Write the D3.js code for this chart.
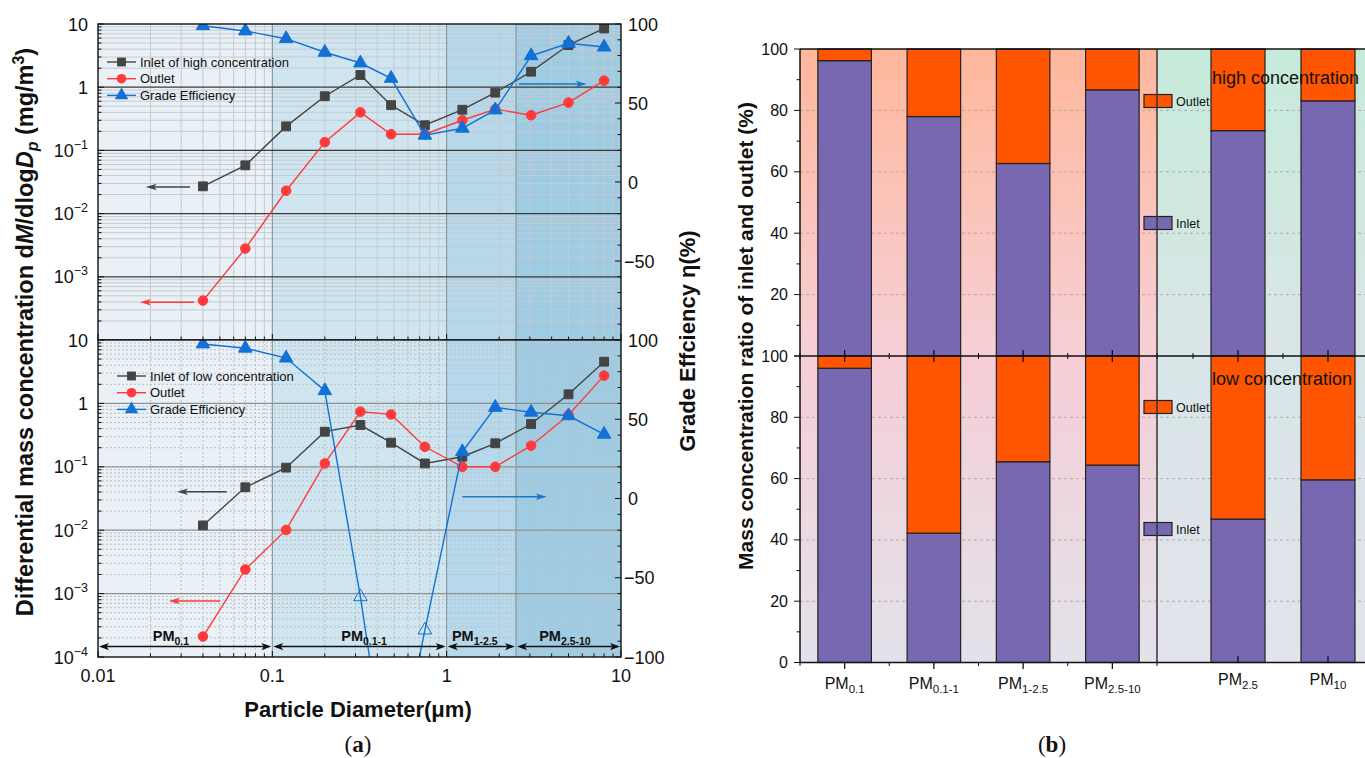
<!DOCTYPE html>
<html>
<head>
<meta charset="utf-8">
<script src="https://cdn.jsdelivr.net/npm/d3@7"></script>
<style>
  body { margin: 0; background: #fff; }
  text { font-family: "Liberation Sans", Arial, sans-serif; fill: #111; }
</style>
</head>
<body>
<div id="chart"></div>
<script>
// ---- data ----
var diameters = [0.04, 0.07, 0.12, 0.2, 0.32, 0.48, 0.75, 1.23, 1.9, 3.05, 5.0, 8.0];

var inletHigh = [0.027, 0.058, 0.24, 0.72, 1.56, 0.52, 0.25, 0.44, 0.82, 1.76, 4.65, 8.5];
var outletHigh = [4.2e-4, 2.8e-3, 0.023, 0.135, 0.40, 0.18, 0.18, 0.30, 0.45, 0.36, 0.57, 1.27];
var effHigh = [98.9, 95.6, 90.7, 82.1, 75.3, 65.6, 29.6, 34.0, 45.6, 79.9, 87.8, 85.4];

var inletLow = [0.0119, 0.0475, 0.097, 0.358, 0.456, 0.24, 0.113, 0.144, 0.235, 0.473, 1.39, 4.55];
var outletLow = [2.1e-4, 2.4e-3, 0.0101, 0.113, 0.74, 0.67, 0.207, 0.10, 0.10, 0.215, 0.656, 2.74];
var effLow = [97.5, 94.8, 88.6, 68.0, -62, -190, -83, 29.5, 57.5, 54.4, 52.2, 40.5];
var effLowHollow = [0, 0, 0, 0, 1, 0, 1, 0, 0, 0, 0, 0];

// arrows: [from x, to x, y value]
var arrowsHigh = [[0.0337, 0.0188, 0.0264], [0.0355, 0.0174, 3.95e-4], [2.60, 6.36, 62]];
var arrowsLow = [[0.0547, 0.0284, 0.0405], [0.0501, 0.0255, 7.64e-4], [1.23, 3.75, 1.1]];

var rangeEdges = [0.01, 0.1, 1, 2.5, 10];
var rangeSubs = ["0.1", "0.1-1", "1-2.5", "2.5-10"];
var rangeLabelAt = [0.0262, 0.336, 1.45, 4.77];
var rangeArrowY = 1.46e-4;

var fracCats = ["0.1", "0.1-1", "1-2.5", "2.5-10"];
var inletHighFrac = [96.2, 78.0, 62.7, 86.7];
var inletLowFrac = [96.0, 42.2, 65.5, 64.4];
var cumCats = ["2.5", "10"];
var inletHighCum = [73.4, 83.1];
var inletLowCum = [46.8, 59.6];

// ---- helpers ----
function logMinor(e0, e1) {
    var out = [];
    for (var e = e0; e < e1; e++) {
        for (var m = 2; m <= 9; m++) out.push(m * Math.pow(10, e));
    }
    return out;
}
function decades(e0, e1) {
    var out = [];
    for (var e = e0; e <= e1; e++) out.push(Math.pow(10, e));
    return out;
}
function arrowHead(g, xt, yt, dir, color, len, half) {
    g.append("path")
        .attr("d", "M" + xt + "," + yt +
            "L" + (xt - dir * len) + "," + (yt - half) +
            "L" + (xt - dir * len * 0.75) + "," + yt +
            "L" + (xt - dir * len) + "," + (yt + half) + "Z")
        .attr("fill", color);
}
function subLabel(g, xPos, yPos, base, sub, size, subSize, bold) {
    var t = g.append("text")
        .attr("x", xPos).attr("y", yPos)
        .attr("text-anchor", "middle")
        .style("font-size", size + "px")
        .style("font-weight", bold ? "bold" : "normal");
    t.append("tspan").text(base);
    t.append("tspan").attr("dy", size * 0.28).style("font-size", subSize + "px").text(sub);
    return t;
}

var svg = d3.select("#chart").append("svg")
    .attr("width", 1365)
    .attr("height", 758);
var defs = svg.append("defs");

// ================= panel (a) =================
var x = d3.scaleLog().domain([0.01, 10]).range([98, 621]);
var bandColors = ["#e9f0f6", "#cfe6f1", "#b6d8ea", "#9fcce2"];

var panelsA = [
    { top: 24, bottom: 340, inlet: inletHigh, outlet: outletHigh, eff: effHigh, hollow: null,
      name: "Inlet of high concentration", legX: 107, legY: 62, arrows: arrowsHigh,
      minorDash: null, minorColor: "#c3cbd1", majorColor: "#3a3a3a",
      yLabels: decades(-3, 1), effLabels: [100, 50, 0, -50], ranges: false },
    { top: 340, bottom: 657, inlet: inletLow, outlet: outletLow, eff: effLow, hollow: effLowHollow,
      name: "Inlet of low concentration", legX: 117, legY: 376, arrows: arrowsLow,
      minorDash: "2,2", minorColor: "#b8c0c6", majorColor: "#8f8f8f",
      yLabels: decades(-4, 1), effLabels: [100, 50, 0, -50, -100], ranges: true }
];

panelsA.forEach(function (p, pi) {
    var y = d3.scaleLog().domain([1e-4, 10]).range([p.bottom, p.top]);
    var yE = d3.scaleLinear().domain([-100, 100]).range([p.bottom, p.top]);
    var g = svg.append("g");

    defs.append("clipPath").attr("id", "clipA" + pi)
        .append("rect")
        .attr("x", 98).attr("y", p.top)
        .attr("width", 523).attr("height", p.bottom - p.top);

    // shaded size ranges
    g.selectAll(".band").data(rangeEdges.slice(0, 4)).enter().append("rect")
        .attr("x", function (d) { return x(d); })
        .attr("y", p.top)
        .attr("width", function (d, i) { return x(rangeEdges[i + 1]) - x(d); })
        .attr("height", p.bottom - p.top)
        .attr("fill", function (d, i) { return bandColors[i]; });

    // minor grid
    g.selectAll(".vmin").data(logMinor(-2, 1)).enter().append("line")
        .attr("x1", function (d) { return x(d); })
        .attr("x2", function (d) { return x(d); })
        .attr("y1", p.top).attr("y2", p.bottom)
        .attr("stroke", p.minorColor).attr("stroke-width", 1)
        .attr("stroke-dasharray", p.minorDash);
    g.selectAll(".hmin").data(logMinor(-4, 1)).enter().append("line")
        .attr("x1", 98).attr("x2", 621)
        .attr("y1", function (d) { return y(d); })
        .attr("y2", function (d) { return y(d); })
        .attr("stroke", p.minorColor).attr("stroke-width", 1)
        .attr("stroke-dasharray", p.minorDash);

    // major grid
    g.selectAll(".vmaj").data([0.1, 1, 2.5]).enter().append("line")
        .attr("x1", function (d) { return x(d); })
        .attr("x2", function (d) { return x(d); })
        .attr("y1", p.top).attr("y2", p.bottom)
        .attr("stroke", "#7f8d96").attr("stroke-width", 1);
    g.selectAll(".hmaj").data(decades(-3, 0)).enter().append("line")
        .attr("x1", 98).attr("x2", 621)
        .attr("y1", function (d) { return y(d); })
        .attr("y2", function (d) { return y(d); })
        .attr("stroke", p.majorColor).attr("stroke-width", 1.2);

    // series
    var series = [
        { vals: p.inlet, sc: y, color: "#444444", sym: d3.symbolSquare, size: 78 },
        { vals: p.outlet, sc: y, color: "#ff3a3a", sym: d3.symbolCircle, size: 72 },
        { vals: p.eff, sc: yE, color: "#1270d6", sym: d3.symbolTriangle, size: 80 }
    ];
    var plot = g.append("g").attr("clip-path", "url(#clipA" + pi + ")");
    series.forEach(function (s, si) {
        var line = d3.line()
            .x(function (d, i) { return x(diameters[i]); })
            .y(function (d) { return s.sc(d); });
        plot.append("path")
            .datum(s.vals)
            .attr("fill", "none")
            .attr("stroke", s.color)
            .attr("stroke-width", 1.4)
            .attr("d", line);
        plot.selectAll(".m" + si).data(s.vals).enter().append("path")
            .attr("transform", function (d, i) { return "translate(" + x(diameters[i]) + "," + s.sc(d) + ")"; })
            .attr("d", d3.symbol().type(s.sym).size(s.size))
            .attr("fill", function (d, i) { return (si === 2 && p.hollow && p.hollow[i]) ? "none" : s.color; })
            .attr("stroke", s.color)
            .attr("stroke-width", 1);
    });

    // legend
    var legNames = [p.name, "Outlet", "Grade Efficiency"];
    series.forEach(function (s, i) {
        var ly = p.legY + i * 16.7;
        g.append("line")
            .attr("x1", p.legX).attr("x2", p.legX + 29)
            .attr("y1", ly).attr("y2", ly)
            .attr("stroke", s.color).attr("stroke-width", 1.4);
        g.append("path")
            .attr("transform", "translate(" + (p.legX + 14.5) + "," + ly + ")")
            .attr("d", d3.symbol().type(s.sym).size(s.size))
            .attr("fill", s.color);
        g.append("text")
            .attr("x", p.legX + 33).attr("y", ly + 4.6)
            .style("font-size", "13px")
            .text(legNames[i]);
    });

    // axis arrows
    p.arrows.forEach(function (a, i) {
        var sc = i === 2 ? yE : y;
        var col = ["#444444", "#ff3a3a", "#1878c8"][i];
        var x1 = x(a[0]), x2 = x(a[1]), yy = sc(a[2]);
        var dir = x2 > x1 ? 1 : -1;
        g.append("line")
            .attr("x1", x1).attr("x2", x2 - dir * 6)
            .attr("y1", yy).attr("y2", yy)
            .attr("stroke", col).attr("stroke-width", 1.4);
        arrowHead(g, x2, yy, dir, col, 11, 3.2);
    });

    // PM ranges
    if (p.ranges) {
        var ay = y(rangeArrowY);
        rangeEdges.slice(0, 4).forEach(function (e, i) {
            var xa = x(e), xb = x(rangeEdges[i + 1]);
            g.append("line")
                .attr("x1", xa + 4).attr("x2", xb - 4)
                .attr("y1", ay).attr("y2", ay)
                .attr("stroke", "#111").attr("stroke-width", 1.5);
            arrowHead(g, xa + 1, ay, -1, "#111", 10, 3.6);
            arrowHead(g, xb - 1, ay, 1, "#111", 10, 3.6);
            subLabel(g, x(rangeLabelAt[i]), ay - 6, "PM", rangeSubs[i], 14.5, 10.5, true);
        });
    }

    // frame
    g.append("rect")
        .attr("x", 98).attr("y", p.top)
        .attr("width", 523).attr("height", p.bottom - p.top)
        .attr("fill", "none").attr("stroke", "#111").attr("stroke-width", 1.4);

    // left ticks (inward)
    g.selectAll(".ly").data(decades(-4, 1)).enter().append("line")
        .attr("x1", 98).attr("x2", 104)
        .attr("y1", function (d) { return y(d); }).attr("y2", function (d) { return y(d); })
        .attr("stroke", "#111");
    g.selectAll(".lym").data(logMinor(-4, 1)).enter().append("line")
        .attr("x1", 98).attr("x2", 101.5)
        .attr("y1", function (d) { return y(d); }).attr("y2", function (d) { return y(d); })
        .attr("stroke", "#111");
    // right ticks (inward)
    g.selectAll(".ry").data(d3.range(-100, 101, 10)).enter().append("line")
        .attr("x1", function (d) { return d % 50 === 0 ? 615 : 617.5; }).attr("x2", 621)
        .attr("y1", function (d) { return yE(d); }).attr("y2", function (d) { return yE(d); })
        .attr("stroke", "#111");
    // bottom ticks
    var bt = g.append("g");
    bt.selectAll(".bx").data(decades(-2, 1).concat(logMinor(-2, 1))).enter().append("line")
        .attr("x1", function (d) { return x(d); }).attr("x2", function (d) { return x(d); })
        .attr("y1", p.bottom)
        .attr("y2", function (d) {
            var major = Math.abs(Math.log10(d) - Math.round(Math.log10(d))) < 1e-9;
            return p.bottom - (major ? 6 : 3.5);
        })
        .attr("stroke", "#111");
    if (pi === 0) {
        bt.selectAll(".bx2").data(logMinor(-2, 1)).enter().append("line")
            .attr("x1", function (d) { return x(d); }).attr("x2", function (d) { return x(d); })
            .attr("y1", p.bottom).attr("y2", p.bottom + 3.5)
            .attr("stroke", "#111");
    }

    // left labels
    p.yLabels.forEach(function (v) {
        var e = Math.round(Math.log10(v));
        var t = g.append("text")
            .attr("x", 88).attr("y", y(v) + 6.5)
            .attr("text-anchor", "end")
            .style("font-size", "18px");
        if (e === 1) t.text("10");
        else if (e === 0) t.text("1");
        else {
            t.append("tspan").text("10");
            t.append("tspan").attr("dy", -8).style("font-size", "12.5px").text("\u2212" + (-e));
        }
    });
    // right labels
    p.effLabels.forEach(function (v) {
        g.append("text")
            .attr("x", v < 0 ? 624 : 628).attr("y", yE(v) + 6.5)
            .style("font-size", "18px")
            .text(v < 0 ? "\u2212" + (-v) : v);
    });
});

// x tick labels
[0.01, 0.1, 1, 10].forEach(function (v) {
    svg.append("text")
        .attr("x", x(v)).attr("y", 682)
        .attr("text-anchor", "middle")
        .style("font-size", "18px")
        .text(v);
});

svg.append("text")
    .attr("x", 358).attr("y", 717)
    .attr("text-anchor", "middle")
    .style("font-size", "22px").style("font-weight", "bold")
    .text("Particle Diameter(\u03bcm)");

var yt = svg.append("text")
    .attr("transform", "translate(33,332) rotate(-90)")
    .attr("text-anchor", "middle")
    .style("font-size", "23.5px").style("font-weight", "bold");
yt.append("tspan").text("Differential mass concentration d");
yt.append("tspan").style("font-style", "italic").text("M");
yt.append("tspan").text("/dlog");
yt.append("tspan").style("font-style", "italic").text("D");
yt.append("tspan").style("font-style", "italic").style("font-size", "16px").attr("dy", 5).text("p");
yt.append("tspan").attr("dy", -5).text(" (mg/m");
yt.append("tspan").style("font-size", "16px").attr("dy", -9).text("3");
yt.append("tspan").attr("dy", 9).text(")");

svg.append("text")
    .attr("transform", "translate(695,341) rotate(-90)")
    .attr("text-anchor", "middle")
    .style("font-size", "22px").style("font-weight", "bold")
    .text("Grade Effciency \u03b7(%)");

var ta = svg.append("text")
    .attr("x", 358).attr("y", 752)
    .attr("text-anchor", "middle")
    .style("font-family", "'Liberation Serif', 'DejaVu Serif', serif")
    .style("font-size", "23px");
ta.append("tspan").text("(");
ta.append("tspan").style("font-weight", "bold").text("a");
ta.append("tspan").text(")");

// ================= panel (b) =================
var xFrac = d3.scaleBand().domain(fracCats).range([800, 1157]).paddingInner(0.4).paddingOuter(0.2);
var xCum = d3.scaleBand().domain(cumCats).range([1157, 1409]).paddingInner(0.4).paddingOuter(0.6);
var yRTop = d3.scaleLinear().domain([0, 100]).range([356, 49]);
var yRBot = d3.scaleLinear().domain([0, 100]).range([662.5, 356]);

function grad(id, c0, c1) {
    var lg = defs.append("linearGradient").attr("id", id)
        .attr("x1", 0).attr("y1", 0).attr("x2", 0).attr("y2", 1);
    lg.append("stop").attr("offset", "0%").attr("stop-color", c0);
    lg.append("stop").attr("offset", "100%").attr("stop-color", c1);
}
grad("gFH", "#ffb79b", "#f6d0d7");
grad("gFL", "#f6cdd6", "#e2e2ea");
grad("gCH", "#c5ebda", "#dbe5e7");
grad("gCL", "#d8e6e8", "#e2e3eb");

var panelsB = [
    { sc: yRTop, frac: inletHighFrac, cum: inletHighCum, gF: "gFH", gC: "gCH",
      title: "high concentration", ty: 84, labels: [100, 80, 60, 40, 20] },
    { sc: yRBot, frac: inletLowFrac, cum: inletLowCum, gF: "gFL", gC: "gCL",
      title: "low concentration", ty: 385, labels: [100, 80, 60, 40, 20, 0] }
];

var gb = svg.append("g");
panelsB.forEach(function (p, pi) {
    var y = p.sc;
    var top = y(100), bot = y(0);
    gb.append("rect").attr("x", 800).attr("y", top).attr("width", 357).attr("height", bot - top)
        .attr("fill", "url(#" + p.gF + ")");
    gb.append("rect").attr("x", 1157).attr("y", top).attr("width", 260).attr("height", bot - top)
        .attr("fill", "url(#" + p.gC + ")");

    gb.selectAll(".grid" + pi).data([20, 40, 60, 80]).enter().append("line")
        .attr("x1", 800).attr("x2", 1365)
        .attr("y1", function (d) { return y(d); }).attr("y2", function (d) { return y(d); })
        .attr("stroke", "#a99c9c").attr("stroke-width", 0.8).attr("stroke-dasharray", "3,3");

    [[xFrac, p.frac, fracCats], [xCum, p.cum, cumCats]].forEach(function (set) {
        var bx = set[0], vals = set[1];
        gb.selectAll(null).data(vals).enter().append("rect")
            .attr("x", function (d, i) { return bx(set[2][i]); })
            .attr("y", function (d) { return y(d); })
            .attr("width", bx.bandwidth())
            .attr("height", function (d) { return y(0) - y(d); })
            .attr("fill", "#7868b2").attr("stroke", "#222").attr("stroke-width", 1.2);
        gb.selectAll(null).data(vals).enter().append("rect")
            .attr("x", function (d, i) { return bx(set[2][i]); })
            .attr("y", y(100))
            .attr("width", bx.bandwidth())
            .attr("height", function (d) { return y(d) - y(100); })
            .attr("fill", "#ff5500").attr("stroke", "#222").attr("stroke-width", 1.2);
    });

    // legend
    [["Outlet", "#ff5500", 101], ["Inlet", "#7868b2", 223]].forEach(function (l) {
        var ly = l[2] + pi * 306;
        gb.append("rect").attr("x", 1144).attr("y", ly - 6.5).attr("width", 28).attr("height", 13)
            .attr("fill", l[1]).attr("stroke", "#222").attr("stroke-width", 1.2);
        gb.append("text").attr("x", 1176).attr("y", ly + 4.5)
            .style("font-size", "12.5px").text(l[0]);
    });

    gb.append("text").attr("x", 1212).attr("y", p.ty)
        .style("font-size", "18px").text(p.title);

    // left axis ticks and labels
    gb.selectAll(".yt" + pi).data(d3.range(0, 101, 10)).enter().append("line")
        .attr("x1", function (d) { return d % 20 === 0 ? 794 : 796.5; }).attr("x2", 800)
        .attr("y1", function (d) { return y(d); }).attr("y2", function (d) { return y(d); })
        .attr("stroke", "#111");
    p.labels.forEach(function (v) {
        gb.append("text").attr("x", 788).attr("y", y(v) + 5.5)
            .attr("text-anchor", "end").style("font-size", "16px").text(v);
    });
});

// frame lines of panel (b)
[49, 356, 662.5].forEach(function (yy) {
    gb.append("line").attr("x1", 800).attr("x2", 1365).attr("y1", yy).attr("y2", yy)
        .attr("stroke", "#111").attr("stroke-width", 1.5);
});
gb.append("line").attr("x1", 800).attr("x2", 800).attr("y1", 49).attr("y2", 662.5)
    .attr("stroke", "#111").attr("stroke-width", 1.5);
gb.append("line").attr("x1", 1157).attr("x2", 1157).attr("y1", 49).attr("y2", 662.5)
    .attr("stroke", "#333").attr("stroke-width", 1.5);

// category ticks
var catPos = fracCats.map(function (c) { return xFrac(c) + xFrac.bandwidth() / 2; });
var cumPos = cumCats.map(function (c) { return xCum(c) + xCum.bandwidth() / 2; });
var fracMinor = [800].concat(catPos.map(function (c) { return c + xFrac.step() / 2; }));
var cumMinor = cumPos.map(function (c) { return c - xCum.step() / 2; });

catPos.concat(cumPos).forEach(function (cx) {
    gb.append("line").attr("x1", cx).attr("x2", cx).attr("y1", 350).attr("y2", 362)
        .attr("stroke", "#111").attr("stroke-width", 1.3);
});
fracMinor.concat(cumMinor).forEach(function (cx) {
    gb.append("line").attr("x1", cx).attr("x2", cx).attr("y1", 353).attr("y2", 359)
        .attr("stroke", "#111");
});
catPos.forEach(function (cx) {
    gb.append("line").attr("x1", cx).attr("x2", cx).attr("y1", 662.5).attr("y2", 669)
        .attr("stroke", "#111").attr("stroke-width", 1.3);
});
fracMinor.forEach(function (cx) {
    gb.append("line").attr("x1", cx).attr("x2", cx).attr("y1", 662.5).attr("y2", 666)
        .attr("stroke", "#111");
});
cumPos.forEach(function (cx) {
    gb.append("line").attr("x1", cx).attr("x2", cx).attr("y1", 656).attr("y2", 662.5)
        .attr("stroke", "#111").attr("stroke-width", 1.3);
});

// category labels
fracCats.forEach(function (c, i) {
    subLabel(gb, catPos[i], 689, "PM", c, 16, 11.5, false);
});
cumCats.forEach(function (c, i) {
    subLabel(gb, cumPos[i], 685, "PM", c, 16, 11.5, false);
});

gb.append("text")
    .attr("transform", "translate(753,336) rotate(-90)")
    .attr("text-anchor", "middle")
    .style("font-size", "21px").style("font-weight", "bold")
    .text("Mass concentration ratio of inlet and outlet (%)");

var tb = gb.append("text")
    .attr("x", 1052).attr("y", 752)
    .attr("text-anchor", "middle")
    .style("font-family", "'Liberation Serif', 'DejaVu Serif', serif")
    .style("font-size", "23px");
tb.append("tspan").text("(");
tb.append("tspan").style("font-weight", "bold").text("b");
tb.append("tspan").text(")");
</script>
</body>
</html>
